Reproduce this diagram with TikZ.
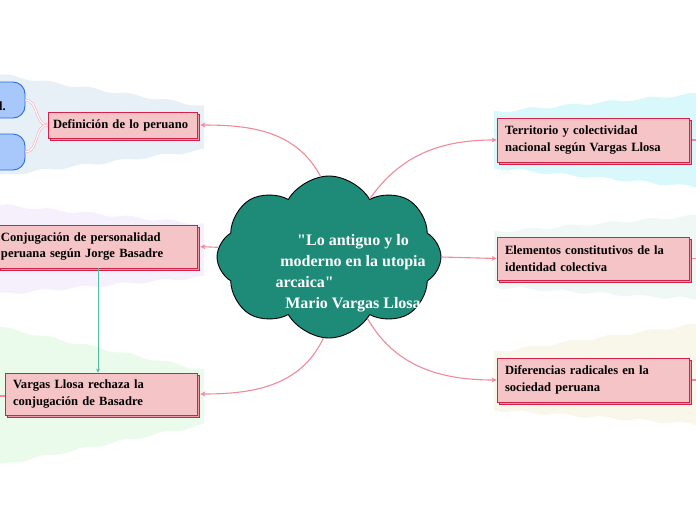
\documentclass[tikz,border=0pt]{standalone}
\usepackage{fontspec}
\setmainfont{Liberation Serif}[Ligatures=TeXOff]
\usetikzlibrary{shapes.symbols,shadows,arrows.meta}
\definecolor{cloudc}{HTML}{1E8A78}
\definecolor{linkc}{HTML}{F08A9A}
\definecolor{boxf}{HTML}{F5C4C6}
\definecolor{boxd}{HTML}{D2224A}
\definecolor{shadf}{HTML}{EE9AA8}
\definecolor{bluef}{HTML}{A8C8FC}
\definecolor{blued}{HTML}{2A6DE0}
\definecolor{tealc}{HTML}{4CC0A0}
\definecolor{bgA}{HTML}{E8F0F7}
\definecolor{bgB}{HTML}{F5F0FC}
\definecolor{bgC}{HTML}{EBFBEB}
\definecolor{bgD}{HTML}{D9F8FB}
\definecolor{bgE}{HTML}{EFF8F4}
\definecolor{bgF}{HTML}{F9F6EA}
% #1 colour, #2 x left, #3 x right, #4 top-left y, #5 top-right y, #6 bottom-left y, #7 bottom-right y
\newcommand\bgblob[7]{%
  \fill[#1] plot[domain=#2:#3,samples=60,smooth] (\x,{#4+(#5-(#4))*(\x-(#2))/(#3-(#2))+1.3*sin(9*\x)})
   -- plot[domain=#3:#2,samples=60,smooth] (\x,{#6+(#7-(#6))*(\x-(#2))/(#3-(#2))+1.3*sin(9*\x+70)}) -- cycle;}
\begin{document}
\begin{tikzpicture}[x=1pt,y=1pt,
  topicbox/.style={rectangle,fill=boxf,draw=boxd,line width=0.8pt,align=left,
    inner xsep=8pt,inner ysep=2pt,anchor=center,
    font=\fontsize{12.6}{16.5}\selectfont\bfseries,
    general shadow={shadow xshift=2.5pt,shadow yshift=-2.5pt,fill=shadf,draw=boxd,line width=0.6pt}},
  conn/.style={draw=linkc,line width=1.1pt,-{Stealth[length=5pt,width=5pt,inset=1.5pt]}},
  stub/.style={draw=linkc,line width=1.1pt},
  dbl/.style={draw=linkc!70,line width=0.6pt,double=white,double distance=1.2pt},
  bluebox/.style={rectangle,rounded corners=12pt,fill=bluef,draw=blued,line width=0.9pt,
    minimum width=66pt,minimum height=36pt}]
\useasboundingbox (0,0) rectangle (696,-520);
% background blobs
\bgblob{bgA}{-10}{204}{-73}{-106}{-177}{-150}
\bgblob{bgB}{-10}{204}{-204}{-224}{-295}{-277}
\bgblob{bgC}{-10}{204}{-325}{-370}{-467}{-425}
\bgblob{bgD}{494}{706}{-112}{-93}{-168}{-188}
\bgblob{bgE}{494}{706}{-232}{-215}{-287}{-300}
\bgblob{bgF}{494}{706}{-352}{-323}{-410}{-425}
% central cloud
\node[cloud,cloud puffs=8,cloud puff arc=120,cloud ignores aspect,
  minimum width=224pt,minimum height=162pt,fill=cloudc,draw=black,line width=0.9pt]
  (cloud) at (329,-257) {};
\node[text=white,font=\fontsize{16}{21}\selectfont\bfseries,align=center] (title) at (353,-273)
  {"Lo antiguo y lo\\moderno en la utopia\\\makebox[155pt][l]{arcaica"}\\ Mario Vargas Llosa};
% topics
\node[topicbox,inner xsep=5pt,text width=139pt,minimum height=26pt] (def) at (122.5,-125) {Definición de lo peruano};
\node[topicbox,inner xsep=3pt,text width=193pt,minimum height=43pt] (conj) at (97.5,-246.5)
  {Conjugación de personalidad\\peruana según Jorge Basadre};
\node[topicbox,text width=176pt,minimum height=42pt] (rech) at (101,-394)
  {Vargas Llosa rechaza la\\conjugación de Basadre};
\node[topicbox,text width=176pt,minimum height=44pt] (terr) at (593,-140)
  {Territorio y colectividad\\nacional según Vargas Llosa};
\node[topicbox,text width=176pt,minimum height=43pt] (elem) at (593,-258.5)
  {Elementos constitutivos de la\\identidad colectiva};
\node[topicbox,text width=176pt,minimum height=44pt] (dif) at (593,-380)
  {Diferencias radicales en la\\sociedad peruana};
% blue sub nodes
\node[bluebox] (b1) at (-8,-100) {};
\node[bluebox] (b2) at (-8,-152) {};
\node[font=\fontsize{12.6}{14}\selectfont\bfseries,inner sep=0pt,anchor=west] (b1t) at (-1,-106) {l.};
% connectors
\draw[conn,shorten >=3pt] (cloud.96) to[out=118,in=0] (def.east);
\draw[conn,shorten >=3pt] (cloud.175) -- (conj.east);
\draw[conn,shorten >=3pt] (cloud.266) to[out=245,in=0] (rech.east);
\draw[conn] (cloud.55) to[out=55,in=180] (terr.west);
\draw[conn] (cloud.0) -- (elem.west);
\draw[conn] (cloud.302) to[out=300,in=180] (dif.west);
\draw[dbl] (def.west) to[out=180,in=0] (b1.east);
\draw[dbl] (def.west) to[out=180,in=0] (b2.east);
\draw[draw=tealc,line width=0.8pt,-{Stealth[length=4pt,width=4pt]}] (conj.south -| 98,0) -- (rech.north -| 98,0);
% stubs to off-picture children
\coordinate (s1) at (700,-140);
\coordinate (s2) at (700,-258.5);
\coordinate (s3) at (700,-380);
\coordinate (s4) at (-4,-396);
\draw[stub] ([xshift=3pt]terr.east) -- (s1);
\draw[stub] ([xshift=3pt]elem.east) -- (s2);
\draw[stub] ([xshift=3pt]dif.east) -- (s3);
\draw[stub] (rech.west |- s4) -- (s4);
\end{tikzpicture}
\end{document}
